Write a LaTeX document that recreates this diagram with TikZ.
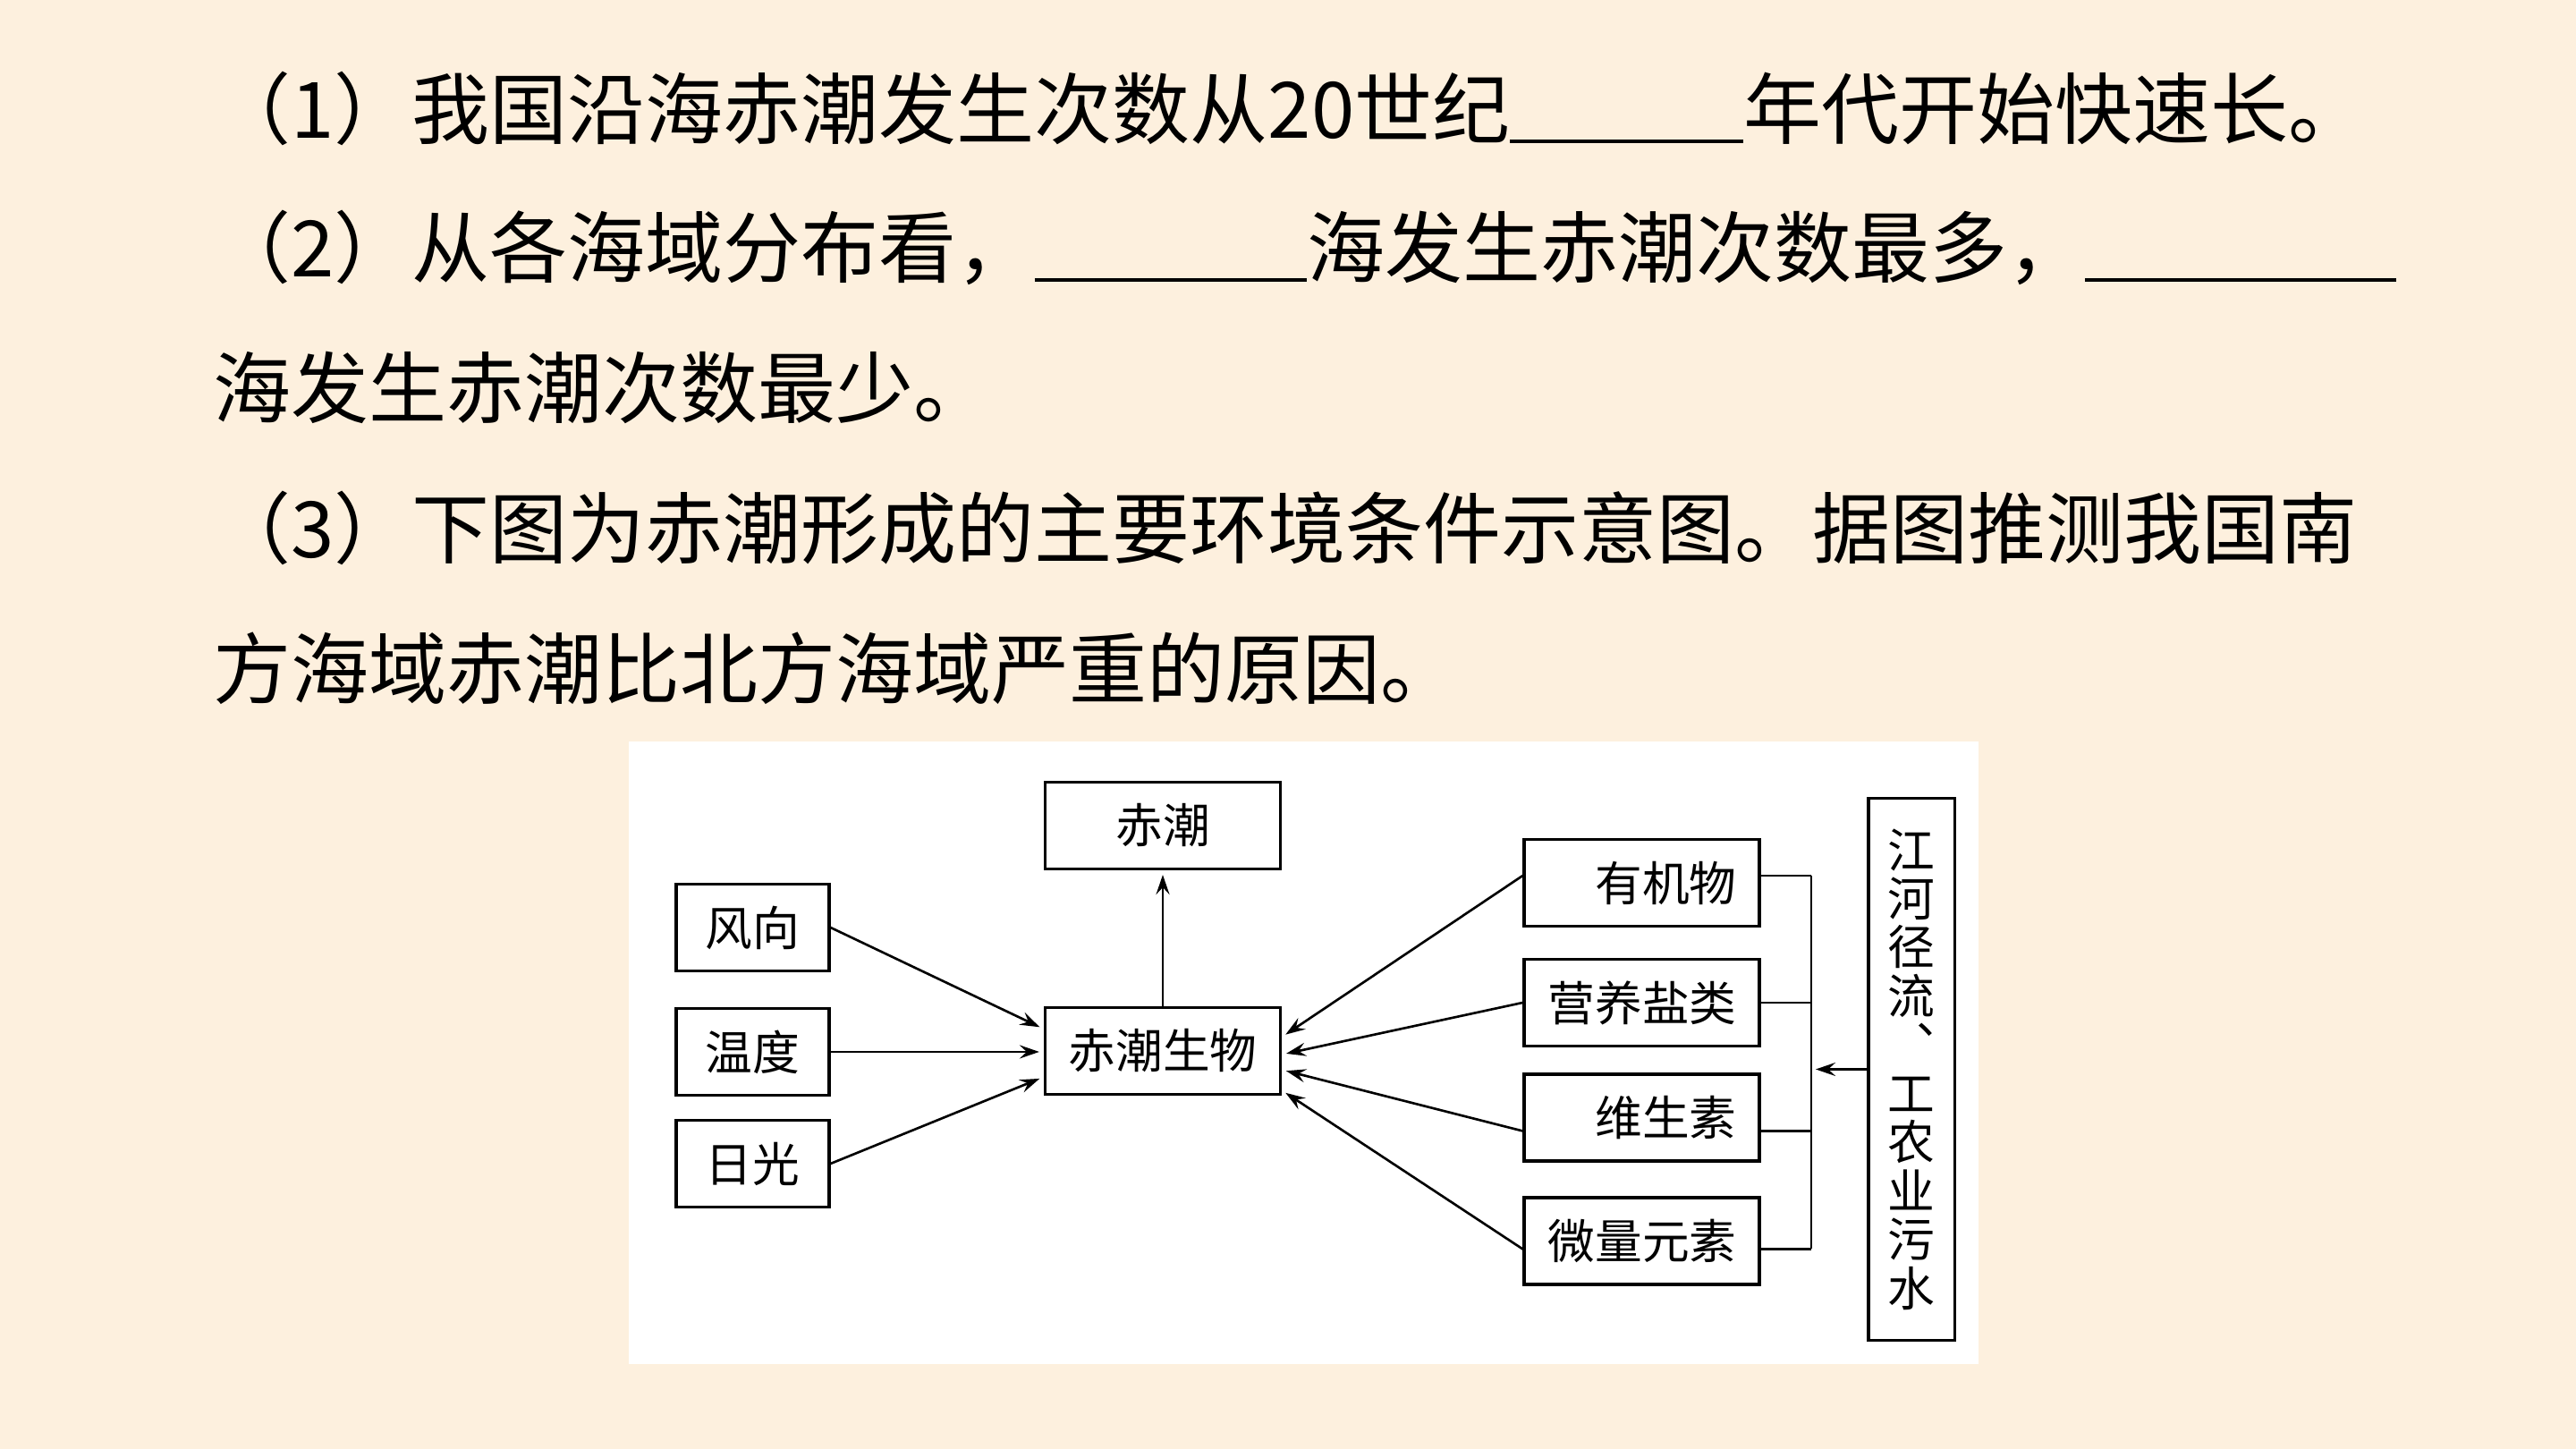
\documentclass[tikz,border=0pt]{standalone}
\usepackage{fontspec}
\setmainfont{Noto Sans CJK SC}
\usepackage{xcolor}
\usetikzlibrary{positioning}
\usetikzlibrary{arrows.meta}
\usetikzlibrary{calc}
\usetikzlibrary{math}

\definecolor{slidebg}{RGB}{253,240,222}

\newcommand{\blankline}[1]{\rule[-0.06em]{#1em}{0.05em}}

\tikzset{
  qline/.style={anchor=base west, inner sep=0pt, font=\fontsize{24.75}{30}\selectfont},
  box/.style={draw, line width=0.9pt, inner sep=0pt, minimum height=0.97cm,
    font=\fontsize{15}{16}\selectfont},
  rbox/.style={box, text width=2.12cm, align=right, inner xsep=0.255cm},
  link/.style={line width=0.75pt, -{Stealth[length=2.2mm,width=1.5mm,inset=0.8mm]},
    shorten >=0.5mm},
  bar/.style={line width=0.8pt}
}

\begin{document}
\begin{tikzpicture}

  \tikzmath{
    \W    = 28.8;   % page width
    \H    = 16.2;   % page height
    \lx   = 2.38;   % left edge of the question text
    \busx = 20.25;  % x of the collecting line on the right
  }

  % page
  \fill[slidebg] (0,0) rectangle (\W,\H);
  \useasboundingbox (0,0) rectangle (\W,\H);

  % question text
  \node[qline] (q1) at (\lx,14.65) {（1）我国沿海赤潮发生次数从20世纪\blankline{3}年代开始快速长。};
  \node[qline] (q2) at (\lx,13.10) {（2）从各海域分布看，\blankline{3.5}海发生赤潮次数最多，\blankline{4}};
  \node[qline] (q2b) at (\lx,11.53) {海发生赤潮次数最少。};
  \node[qline] (q3) at (\lx,9.96) {（3）下图为赤潮形成的主要环境条件示意图。据图推测我国南};
  \node[qline] (q3b) at (\lx,8.39) {方海域赤潮比北方海域严重的原因。};

  % white panel of the figure
  \fill[white] (7.025,0.95) rectangle (22.115,7.91);

  % middle column
  \node[box, minimum width=2.63cm] (tide) at (13.0,6.97) {赤潮};
  \node[box, minimum width=2.63cm] (bio) at (13.0,4.45) {赤潮生物};

  % left column
  \node[box, minimum width=1.71cm] (wind) at (8.415,5.83) {风向};
  \node[box, minimum width=1.71cm] (temp) at (8.415,4.44) {温度};
  \node[box, minimum width=1.71cm] (sun) at (8.415,3.19) {日光};

  % right column
  \node[rbox] (org) at (18.355,6.33) {有机物};
  \node[rbox] (salt) at (18.355,4.99) {营养盐类};
  \node[rbox] (vit) at (18.355,3.705) {维生素};
  \node[rbox] (trace) at (18.355,2.325) {微量元素};

  % source box with upright text
  \node[box, minimum width=0.965cm, minimum height=6.06cm, align=center,
    font=\fontsize{15}{15.5}\selectfont] (river) at (21.3725,4.245)
    {江\\河\\径\\流\\︑\\工\\农\\业\\污\\水};

  \coordinate (bus) at (\busx,0);

  % left factors into the organisms
  \draw[link] (wind.east) -- ($(bio.north west)!0.255!(bio.south west)$);
  \draw[link] (temp.east) -- (temp.east -| bio.west);
  \draw[link] (sun.east) -- ($(bio.north west)!0.79!(bio.south west)$);

  % organisms to red tide
  \draw[link] (bio.north) -- (tide.south);

  % right factors into the organisms, and the collecting line
  \foreach \b/\dy/\f in {org/0.08/0.345, salt/0/0.54, vit/-0.15/0.71, trace/-0.09/0.94}{
    \coordinate (\b-l) at ($(\b.west)+(0,\dy)$);
    \coordinate (\b-r) at ($(\b.east)+(0,\dy)$);
    \draw[link] (\b-l) -- ($(bio.north east)!\f!(bio.south east)$);
    \draw[bar] (\b-r) -- (\b-r -| bus);
  }
  \draw[bar] (org-r -| bus) -- (trace-r -| bus);

  % runoff and waste water into the collecting line
  \draw[link] (river.west) -- (river.west -| bus);

\end{tikzpicture}
\end{document}
